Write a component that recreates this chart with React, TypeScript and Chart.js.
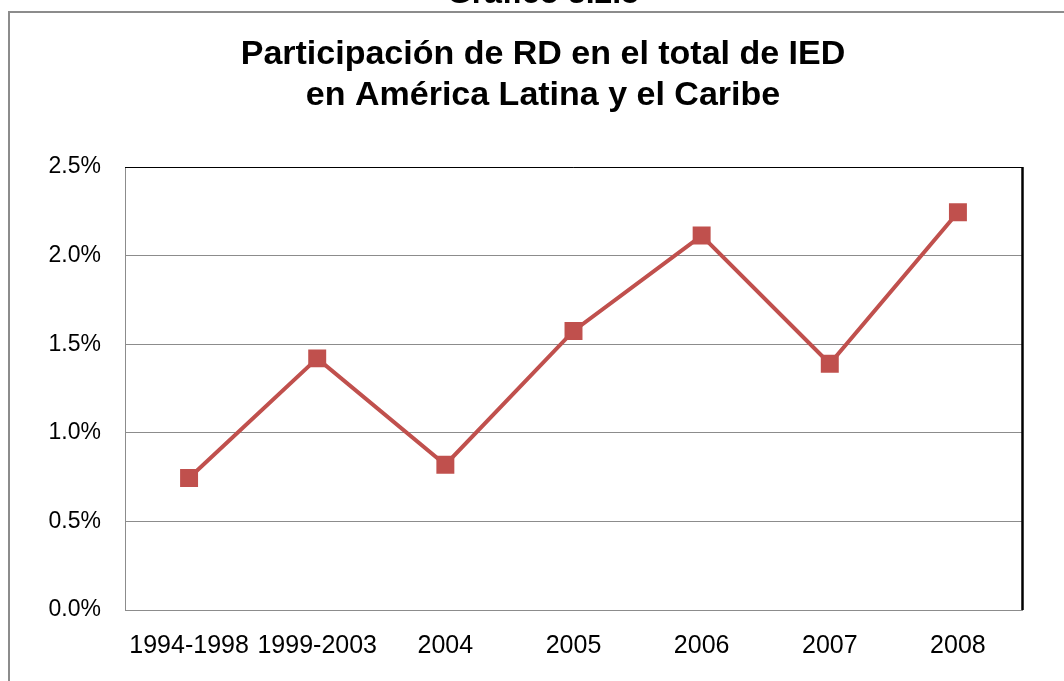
import React, { useEffect, useRef } from "react";
import { Chart, registerables } from "chart.js";

Chart.register(...registerables);

const categories = ["1994-1998", "1999-2003", "2004", "2005", "2006", "2007", "2008"];
const shareValues = [0.745, 1.42, 0.82, 1.575, 2.113, 1.39, 2.245];
const yTicks = [0, 0.5, 1.0, 1.5, 2.0, 2.5];
const titleLines = ["Participación de RD en el total de IED", "en América Latina y el Caribe"];
const headerText = "Gráfico 3.2.5";

const FONT = '"Liberation Sans", Arial, sans-serif';

const decorPlugin = {
  id: "decor",
  beforeDraw(chart: any) {
    const ctx = chart.ctx;
    ctx.save();
    ctx.fillStyle = "#ffffff";
    ctx.fillRect(0, 0, chart.width, chart.height);
    ctx.restore();
  },
  afterDraw(chart: any) {
    const ctx = chart.ctx;
    const a = chart.chartArea;
    ctx.save();
    // outer frame
    ctx.strokeStyle = "#8c8c8c";
    ctx.lineWidth = 2;
    ctx.beginPath();
    ctx.moveTo(9, chart.height + 5);
    ctx.lineTo(9, 12);
    ctx.lineTo(chart.width + 5, 12);
    ctx.stroke();
    // plot border top/right
    ctx.strokeStyle = "#000000";
    ctx.lineWidth = 1;
    ctx.beginPath();
    ctx.moveTo(a.left, a.top + 0.5);
    ctx.lineTo(a.right, a.top + 0.5);
    ctx.stroke();
    ctx.lineWidth = 2.5;
    ctx.beginPath();
    ctx.moveTo(a.right + 0.5, a.top);
    ctx.lineTo(a.right + 0.5, a.bottom);
    ctx.stroke();
    // texts
    ctx.fillStyle = "#000000";
    ctx.textAlign = "center";
    ctx.textBaseline = "alphabetic";
    ctx.font = `bold 32px ${FONT}`;
    ctx.fillText(headerText, 543, 3);
    ctx.font = `bold 34px ${FONT}`;
    ctx.fillText(titleLines[0], 543, 64);
    ctx.fillText(titleLines[1], 543, 105);
    ctx.restore();
  },
};

export default function App() {
  const ref = useRef<HTMLCanvasElement | null>(null);
  useEffect(() => {
    if (!ref.current) return;
    const chart = new Chart(ref.current, {
      type: "line",
      data: {
        labels: categories,
        datasets: [
          {
            data: shareValues,
            borderColor: "#C0504D",
            backgroundColor: "#C0504D",
            borderWidth: 4,
            pointStyle: "rect",
            pointRadius: 12.7,
            pointHoverRadius: 12.7,
            pointBorderWidth: 0,
            pointBackgroundColor: "#C0504D",
            tension: 0,
          },
        ],
      },
      options: {
        animation: false,
        responsive: false,
        devicePixelRatio: 1,
        layout: { padding: { top: 167, left: 0, right: 42, bottom: 0 } },
        plugins: {
          legend: { display: false },
          title: { display: false },
          tooltip: { enabled: false },
        },
        scales: {
          x: {
            offset: true,
            grid: { display: false, drawTicks: false },
            border: { display: true, color: "#8c8c8c", width: 1 },
            ticks: {
              color: "#000000",
              font: { family: FONT, size: 25 },
              padding: 21,
              maxRotation: 0,
              autoSkip: false,
            },
            afterFit(scale: any) {
              scale.height = 71;
            },
          },
          y: {
            min: 0,
            max: 2.5,
            afterBuildTicks(scale: any) {
              scale.ticks = yTicks.map((v) => ({ value: v }));
            },
            grid: { color: "#8c8c8c", lineWidth: 1, drawTicks: false },
            border: { display: true, color: "#8c8c8c", width: 1 },
            ticks: {
              color: "#000000",
              font: { family: FONT, size: 23 },
              padding: 24,
              callback: (v: any) => Number(v).toFixed(1) + "%",
            },
            afterFit(scale: any) {
              scale.width = 125;
            },
          },
        },
      },
      plugins: [decorPlugin],
    });
    return () => chart.destroy();
  }, []);
  return (
    <div style={{ position: "fixed", left: 0, top: 0, width: 1064, height: 681, overflow: "hidden", background: "#fff" }}>
      <canvas ref={ref} width={1064} height={681} style={{ display: "block", width: 1064, height: 681 }} />
    </div>
  );
}
